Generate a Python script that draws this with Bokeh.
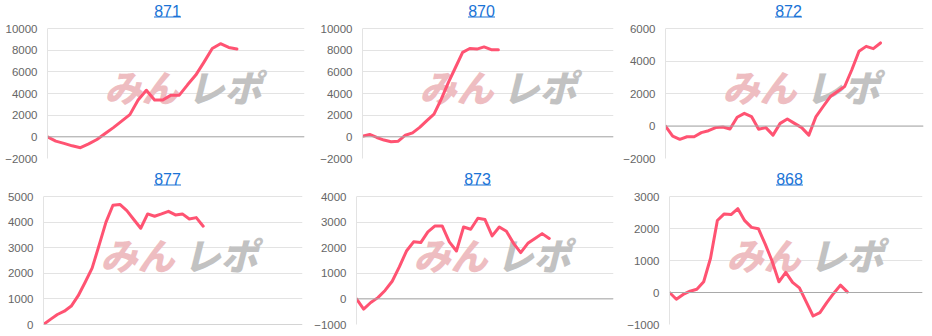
from bokeh.plotting import figure
from bokeh.layouts import column, row
from bokeh.models import FixedTicker, Label, BoxAnnotation, Span, Range1d, ColumnDataSource
from bokeh.embed import file_html
from bokeh.resources import INLINE

# ---- data ----
titles = ["871", "870", "872", "877", "873", "868"]

s871 = [0, -400, -600, -830, -1000, -650, -250, 300, 850, 1450, 2050, 3400, 4300,
        3400, 3400, 3850, 3850, 4800, 5700, 6900, 8150, 8600, 8250, 8100]
s870 = [60, 220, -60, -300, -450, -400, 150, 370, 870, 1500, 2100, 3450, 5000,
        6400, 7800, 8150, 8100, 8300, 8050, 8050]
s872 = [0, -620, -820, -660, -660, -410, -290, -100, -60, -185, 540, 780, 580,
        -200, -100, -560, 160, 430, 160, -100, -560, 580, 1200, 1810, 2120, 2430,
        3460, 4600, 4900, 4760, 5110]
s877 = [0, 200, 390, 520, 720, 1125, 1650, 2200, 3090, 4000, 4660, 4690, 4450,
        4100, 3760, 4320, 4230, 4320, 4420, 4280, 4320, 4120, 4175, 3840]
s873 = [0, -400, -140, 50, 330, 690, 1250, 1870, 2230, 2200, 2620, 2850, 2850,
        2230, 1870, 2810, 2720, 3150, 3100, 2460, 2810, 2640, 2170, 1810, 2170,
        2360, 2550, 2360]
s868 = [0, -210, -60, 40, 100, 335, 1070, 2250, 2455, 2435, 2620, 2245, 2035,
        1995, 1510, 985, 335, 630, 315, 145, -295, -735, -630, -315, -30, 230, 20]

ticks_871 = [-2000, 0, 2000, 4000, 6000, 8000, 10000]
ticks_870 = [-2000, 0, 2000, 4000, 6000, 8000, 10000]
ticks_872 = [-2000, 0, 2000, 4000, 6000]
ticks_877 = [0, 1000, 2000, 3000, 4000, 5000]
ticks_873 = [-1000, 0, 1000, 2000, 3000, 4000]
ticks_868 = [-1000, 0, 1000, 2000, 3000]

series = [s871, s870, s872, s877, s873, s868]
tick_sets = [ticks_871, ticks_870, ticks_872, ticks_877, ticks_873, ticks_868]

# ---- layout / style ----
LINE = "#ff5372"
LINK = "#1a73d6"
HEAD = 28  # space for the title above the plotting area
# width, left border, right border, plot-area height, x max, title centre (frame relative)
layout_cfg = [
    (310, 47, 6, 130, 31.2, 120),
    (310, 52, 7, 130, 35.1, 119),
    (312, 44, 9, 130, 36.0, 123),
    (310, 43, 8, 128, 37.3, 124),
    (310, 46, 7, 128, 36.0, 121),
    (312, 49, 10, 128, 37.0, 120),
]


def make(title, values, ticks, cfg):
    width, left, right, fh, xmax, tcx = cfg
    height = 168
    bottom = height - HEAD - fh
    lo, hi = ticks[0], ticks[-1]
    extra = (hi - lo) * HEAD / fh
    src = ColumnDataSource(dict(x=list(range(len(values))), y=values))
    p = figure(width=width, height=height, output_backend="svg", toolbar_location=None,
               x_range=Range1d(0, xmax), y_range=Range1d(lo, hi + extra),
               x_axis_location=None,
               min_border_left=left, min_border_right=right,
               min_border_top=0, min_border_bottom=bottom)
    p.outline_line_color = None
    p.background_fill_color = "white"
    p.border_fill_color = "white"
    p.xgrid.visible = False
    p.yaxis.ticker = FixedTicker(ticks=ticks)
    p.yaxis.bounds = (lo, hi)
    p.ygrid.ticker = FixedTicker(ticks=ticks)
    p.ygrid.grid_line_color = "#e3e3e3"
    p.yaxis.axis_line_color = "#e3e3e3"
    p.yaxis.major_tick_line_color = None
    p.yaxis.minor_tick_line_color = None
    p.yaxis.major_tick_out = 0
    p.yaxis.major_tick_in = 0
    p.yaxis.minor_tick_out = 0
    p.yaxis.major_label_standoff = 10
    p.yaxis.major_label_text_font = "Liberation Sans"
    p.yaxis.major_label_text_font_size = "11.5px"
    p.yaxis.major_label_text_color = "#666666"

    p.add_layout(Span(location=0, dimension="width", line_color="#a9a9a9", line_width=1))

    # watermark
    wy = fh - 57
    wfont = "'Noto Sans CJK JP Black', 'Noto Sans CJK JP'"
    p.add_layout(Label(x=57, y=wy, x_units="screen", y_units="screen", text="みん",
                       text_font=wfont, text_font_style="bold italic",
                       text_font_size="37px", text_color="#eebdc1",
                       text_baseline="middle", level="underlay"))
    p.add_layout(Label(x=140, y=wy, x_units="screen", y_units="screen", text="レポ",
                       text_font=wfont, text_font_style="bold italic",
                       text_font_size="37px", text_color="#c2c2c2",
                       text_baseline="middle", level="underlay"))

    p.line("x", "y", source=src, line_color=LINE, line_width=3,
           line_join="round", line_cap="round")

    # title as link-styled text
    p.add_layout(Label(x=tcx, y=fh + 18, x_units="screen", y_units="screen", text=title,
                       text_font="Liberation Sans", text_font_size="16px",
                       text_color=LINK, text_align="center", text_baseline="alphabetic"))
    p.add_layout(BoxAnnotation(left=tcx - 13.5, right=tcx + 13.5, bottom=fh + 11, top=fh + 12,
                               left_units="screen", right_units="screen",
                               bottom_units="screen", top_units="screen",
                               fill_color=LINK, fill_alpha=1, line_color=None,
                               line_alpha=0))
    return p


plots = [make(t, s, tk, c) for t, s, tk, c in zip(titles, series, tick_sets, layout_cfg)]
layout = column(row(*plots[:3]), row(*plots[3:]))

open("out.html", "w").write(file_html(layout, INLINE))
